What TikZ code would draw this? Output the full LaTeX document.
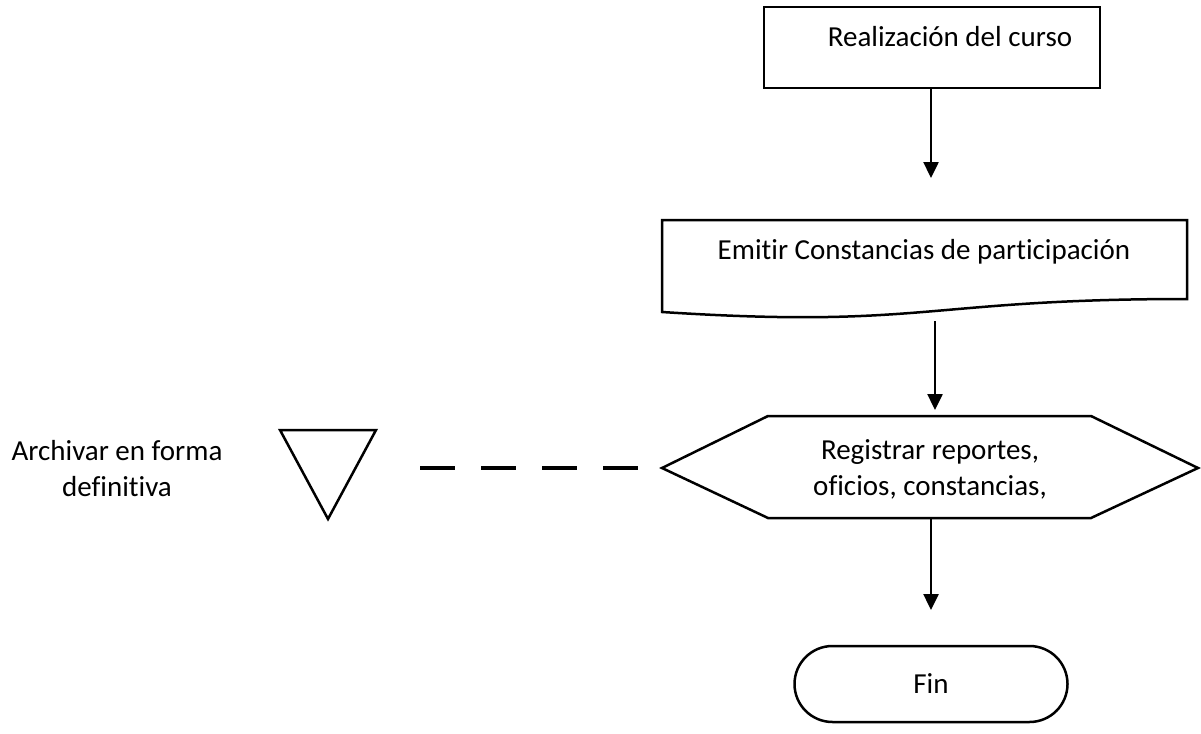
\documentclass[tikz,border=0pt]{standalone}
\usepackage{fontspec}
\setmainfont{Carlito}[Ligatures=NoCommon]
\usetikzlibrary{arrows.meta}
\tikzset{
  shp/.style={draw=black, line width=2.5pt, line join=miter},
  lbl/.style={font=\fontsize{29}{36}\selectfont, align=center, inner sep=0pt},
  arr/.style={draw=black, line width=2.5pt, -{Triangle[width=15pt,length=16pt]}},
  dsh/.style={draw=black, line width=4pt, dash pattern=on 35pt off 26pt}
}
\begin{document}
\begin{tikzpicture}[x=1pt,y=-1pt]
\useasboundingbox[fill=white] (0,0) rectangle (1201,733);
% box 1
\node[shp, rectangle, minimum width=336pt, minimum height=81pt, inner sep=0pt] (box1) at (932,47.5) {};
\node[lbl] (t1) at (950,37) {Realización del curso};
\coordinate (a1e) at (931,178);
\draw[arr] (box1.south -| a1e) -- (a1e);
% document
\path[shp] (662,220) -- (1187,220) -- (1187,299) .. controls (924.5,299) and (924.5,329) .. (662,312) -- cycle;
\node[lbl] (doc) at (924,252) {Emitir Constancias de participación};
\coordinate (a2s) at (935,321);
\coordinate (a2e) at (935,410);
\draw[arr] (a2s) -- (a2e);
% hexagon
\path[shp] (662,468) -- (768,416) -- (1091,416) -- (1198,468) -- (1091,518) -- (768,518) -- cycle;
\node[lbl] (hex) at (930,469) {Registrar reportes,\\oficios, constancias,};
\coordinate (hexS) at (931,518);
\coordinate (hexW) at (638,468);
\coordinate (a3e) at (931,610);
\draw[arr] (hexS) -- (a3e);
% triangle
\path[shp] (280,430) -- (376,430) -- (328,519) -- cycle;
\coordinate (triE) at (420,468);
\draw[dsh] (triE) -- (hexW);
\node[lbl] (arch) at (117,469) {Archivar en forma\\definitiva};
% fin
\node[shp, rectangle, rounded corners=38pt, minimum width=273pt, minimum height=76pt, inner sep=0pt, font=\fontsize{29}{36}\selectfont] (fin) at (931,684) {Fin};
\end{tikzpicture}
\end{document}
